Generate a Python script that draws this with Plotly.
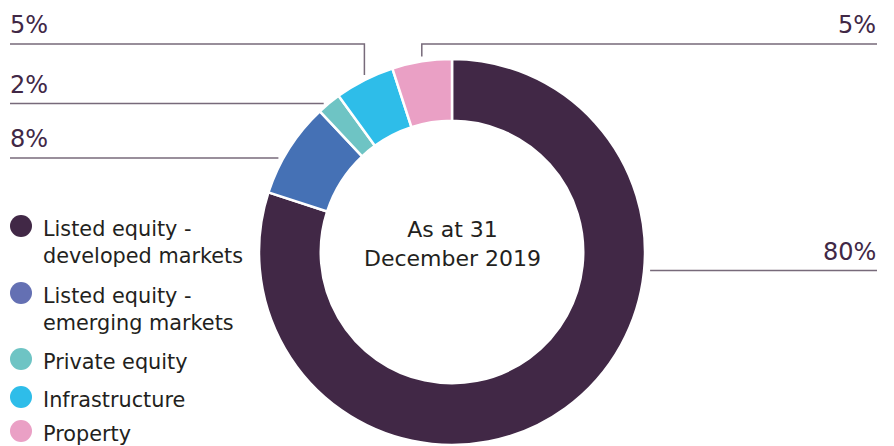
import math
import plotly.graph_objects as go

# ---- data ----
categories = ["Listed equity - developed markets", "Listed equity - emerging markets",
              "Private equity", "Infrastructure", "Property"]
legend_labels = ["Listed equity -<br>developed markets", "Listed equity -<br>emerging markets",
                 "Private equity", "Infrastructure", "Property"]
values = [80, 8, 2, 5, 5]
center_text = "As at 31<br>December 2019"

# ---- styles / layout ----
colors = ["#412846", "#4571b5", "#6ec4c4", "#2ebde9", "#eaa0c5"]
legend_colors = ["#412846", "#6470b3", "#6ec4c4", "#2ebde9", "#eaa0c5"]
FONT = "DejaVu Sans"
W, H = 894, 446
CX, CY, R, HOLE = 452, 252, 193, 0.68
LINE_COLOR = "#776a7a"
TEXT_PURPLE = "#412846"
LEFT_X, RIGHT_X = 10, 877
GAP = 5

# leader config per slice: (side, line y, style)
leader = [("right", 270.5, "h"), ("left", 158, "h"), ("left", 103.5, "h"),
          ("left", 44, "v"), ("right", 44, "v")]
legend_y = [226, 293, 359, 397, 431]

fig = go.Figure()
fig.add_trace(go.Pie(
    values=values, labels=categories, hole=HOLE, sort=False,
    direction="clockwise", rotation=0,
    marker=dict(colors=colors, line=dict(color="white", width=2.5)),
    textinfo="none", hoverinfo="label+percent", showlegend=False,
    domain=dict(x=[(CX - R) / W, (CX + R) / W], y=[(H - CY - R) / H, (H - CY + R) / H]),
))

total = sum(values)
cum = 0
shapes = []
annotations = []
for i, v in enumerate(values):
    mid = (cum + v / 2) / total * 2 * math.pi
    cum += v
    side, ly, style = leader[i]
    if style == "h":
        xc = CX + (1 if side == "right" else -1) * math.sqrt(R ** 2 - (ly - CY) ** 2)
        if side == "right":
            path = [(xc + GAP + 1, ly), (RIGHT_X, ly)]
        else:
            path = [(LEFT_X, ly), (xc - GAP, ly)]
    else:
        xa = CX + R * math.sin(mid)
        ya = CY - math.sqrt(R ** 2 - (xa - CX) ** 2)
        end_x = RIGHT_X if side == "right" else LEFT_X
        path = [(end_x, ly), (xa, ly), (xa, ya - GAP)]
    d = "M " + " L ".join(f"{x:.1f},{y:.1f}" for x, y in path)
    shapes.append(dict(type="path", path=d, xref="x", yref="y",
                       line=dict(color=LINE_COLOR, width=1.5)))
    annotations.append(dict(
        x=RIGHT_X + 1 if side == "right" else LEFT_X - 2, y=ly - 19,
        xref="x", yref="y", text=f"{v}%", showarrow=False,
        xanchor="right" if side == "right" else "left", yanchor="middle",
        font=dict(family=FONT, size=24, color=TEXT_PURPLE)))

# legend (custom, circles)
LEG_FS = 20.8
for i, lab in enumerate(legend_labels):
    nlines = lab.count("<br>") + 1
    fig.add_trace(go.Scatter(
        x=[21], y=[legend_y[i]], mode="markers", showlegend=False, hoverinfo="skip",
        marker=dict(size=22, color=legend_colors[i]), xaxis="x", yaxis="y"))
    annotations.append(dict(
        x=41, y=legend_y[i] + 3 + (nlines - 1) * LEG_FS * 1.3 / 2,
        xref="x", yref="y", text=lab, showarrow=False, align="left",
        xanchor="left", yanchor="middle",
        font=dict(family=FONT, size=LEG_FS, color="#231f20")))

annotations.append(dict(
    x=CX, y=244, xref="x", yref="y", text=center_text, showarrow=False,
    xanchor="center", yanchor="middle", align="center",
    font=dict(family=FONT, size=22, color="#231f20")))

fig.update_layout(
    width=W, height=H, margin=dict(l=0, r=0, t=0, b=0),
    paper_bgcolor="white", plot_bgcolor="rgba(0,0,0,0)",
    xaxis=dict(range=[0, W], visible=False, fixedrange=True, domain=[0, 1]),
    yaxis=dict(range=[H, 0], visible=False, fixedrange=True, domain=[0, 1]),
    shapes=shapes, annotations=annotations, showlegend=False,
    font=dict(family=FONT),
)

fig.write_html("out.html", config={"displayModeBar": False},
               post_script="document.body.style.margin='0';document.body.style.overflow='hidden';")
